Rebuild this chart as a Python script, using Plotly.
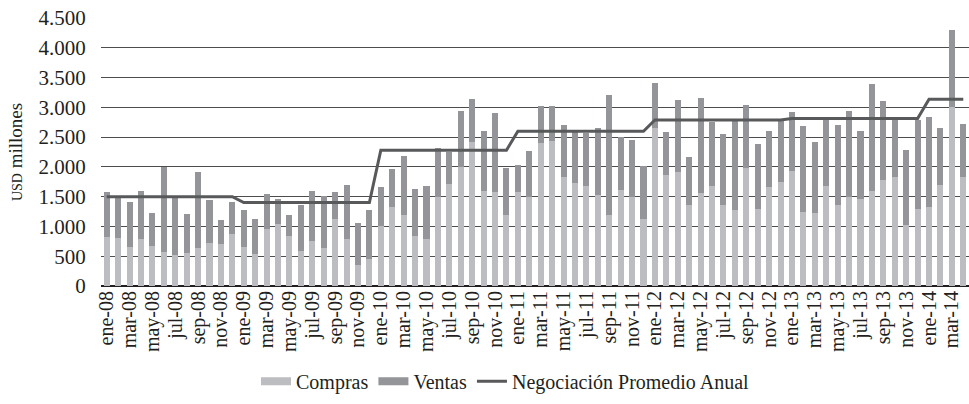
import plotly.graph_objects as go

months = ["ene", "feb", "mar", "abr", "may", "jun", "jul", "ago", "sep", "oct", "nov", "dic"]
years = ["08", "09", "10", "11", "12", "13", "14"]
categories = [f"{m}-{y}" for y in years for m in months][:76]

compras = [818, 806, 650, 790, 672, 571, 515, 549, 638, 722, 711, 874,
           655, 543, 963, 1042, 840, 594, 762, 644, 1120, 795, 353, 459,
           1002, 1333, 1193, 846, 795, 1495, 1719, 1994, 2425, 1590, 1585, 1187,
           1574, 1490, 2397, 2442, 1826, 1730, 1680, 1529, 1193, 1613, 1501, 1126,
           2660, 1870, 1915, 1361, 1568, 1680, 1361, 1277, 1980, 1288, 1658, 1747,
           1932, 1243, 1226, 1680, 1361, 1501, 1456, 1596, 1781, 1826, 1025, 1294,
           1327, 1691, 3002, 1831]

ventas = [756, 689, 761, 812, 560, 1434, 969, 666, 1272, 723, 392, 537,
          622, 588, 577, 414, 358, 767, 834, 868, 454, 896, 705, 812,
          656, 633, 997, 778, 879, 818, 538, 946, 711, 1014, 1321, 801,
          453, 772, 627, 576, 884, 863, 896, 1120, 2016, 896, 952, 884,
          750, 712, 1215, 801, 1596, 1081, 1187, 1495, 1061, 1092, 940, 1025,
          991, 1451, 1193, 1114, 1344, 1439, 1154, 1798, 1327, 1013, 1260, 1495,
          1507, 969, 1299, 885]

promedio_anual = ([1500] * 12 + [1400] * 12 + [2280] * 12 + [2598] * 12 +
                  [2789] * 12 + [2811] * 12 + [3136] * 4)

tick_labels = categories[::2]
y_ticks = [0, 500, 1000, 1500, 2000, 2500, 3000, 3500, 4000, 4500]

C_COMPRAS = "#BCBDC0"
C_VENTAS = "#939598"
C_LINE = "#58595B"
FONT = "Liberation Serif"
TXT = "#231F20"

fig = go.Figure()
fig.add_trace(go.Bar(x=categories, y=compras, name="Compras",
                     marker=dict(color=C_COMPRAS, line=dict(width=0)),
                     showlegend=False))
fig.add_trace(go.Bar(x=categories, y=ventas, name="Ventas",
                     marker=dict(color=C_VENTAS, line=dict(width=0)),
                     showlegend=False))
fig.add_trace(go.Scatter(x=categories, y=promedio_anual, mode="lines",
                         name="Negociación Promedio Anual",
                         line=dict(color=C_LINE, width=3), showlegend=False))
# legend swatches
fig.add_trace(go.Scatter(x=[None], y=[None], mode="lines", name="Compras",
                         line=dict(color=C_COMPRAS, width=8)))
fig.add_trace(go.Scatter(x=[None], y=[None], mode="lines", name="Ventas",
                         line=dict(color=C_VENTAS, width=8)))
fig.add_trace(go.Scatter(x=[None], y=[None], mode="lines",
                         name="Negociación Promedio Anual",
                         line=dict(color=C_LINE, width=3)))

fig.update_layout(
    barmode="stack",
    bargap=0.47,
    width=969, height=404,
    margin=dict(l=101, r=0, t=18, b=118),
    paper_bgcolor="white", plot_bgcolor="white",
    font=dict(family=FONT, color=TXT, size=20),
    separators=",.",
    legend=dict(orientation="h", x=0.466, xanchor="center", y=-0.355,
                yanchor="middle", font=dict(size=20, family=FONT, color=TXT),
                itemwidth=30, traceorder="normal"),
    xaxis=dict(type="category", tickmode="array", tickvals=tick_labels,
               ticktext=tick_labels, tickangle=-90, showgrid=False,
               showline=False, ticks="", tickfont=dict(size=20, family=FONT, color=TXT)),
    yaxis=dict(range=[0, 4500], tickmode="array", tickvals=y_ticks,
               tickformat=",d", showgrid=True, gridcolor="#4D4D4D", gridwidth=1,
               zeroline=True, zerolinecolor="#231F20", zerolinewidth=1.5,
               ticks="outside", ticklen=10, tickcolor="rgba(0,0,0,0)",
               tickfont=dict(size=21, family=FONT, color=TXT),
               title=dict(text="<span style='font-size:14px'>USD</span> millones",
                          font=dict(size=19, family=FONT, color=TXT), standoff=10)),
)

fig.write_html("out.html", config={"displayModeBar": False},
               post_script="document.body.style.margin='0';")
